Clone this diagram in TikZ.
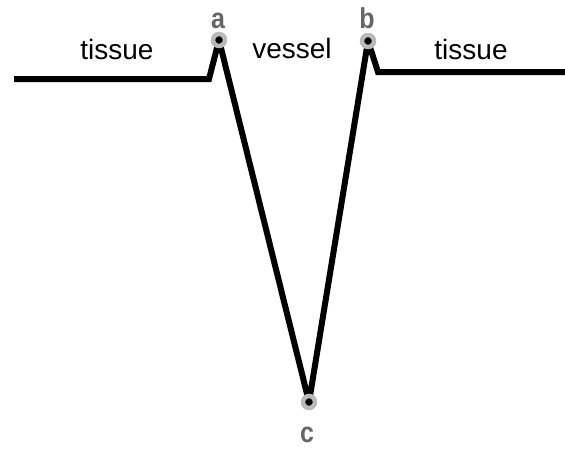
\documentclass[tikz,border=0pt]{standalone}
\usepackage{fontspec}
\setmainfont{Liberation Sans}
\begin{document}
\begin{tikzpicture}[x=1pt, y=-1pt, every node/.style={font=\fontsize{28}{32}\selectfont}]
        \useasboundingbox (0,0) rectangle (565,448);
        \tikzset{pt/.style={circle, fill=black, draw=gray!55, line width=4.5pt, inner sep=0pt, minimum size=12pt}}
        \tikzset{lbl/.style={anchor=base, text=black!60, font=\fontsize{25}{30}\selectfont\bfseries, yscale=1.15}}
        \coordinate (l0) at (14,79);
        \coordinate (l1) at (209,79);
        \coordinate (r1) at (378,72);
        \coordinate (r0) at (565,72);
        \coordinate (a) at (219,40);
        \coordinate (b) at (368,41);
        \coordinate (c) at (309,402);
        \draw[line width=6pt, line join=miter, miter limit=4] (l0) -- (l1) -- (a) -- (c) -- (b) -- (r1) -- (r0);
        \node[pt] (pa) at (a) {};
        \node[pt] (pb) at (b) {};
        \node[pt] (pc) at (c) {};
        \node[lbl] (la) at (218,28) {a};
        \node[lbl] (lb) at (367,28) {b};
        \node[lbl] (lc) at (307,442) {c};
        \node[anchor=base] (t1) at (117,59) {tissue};
        \node[anchor=base] (v) at (292,58) {vessel};
        \node[anchor=base] (t2) at (471,59) {tissue};
    \end{tikzpicture}
\end{document}
